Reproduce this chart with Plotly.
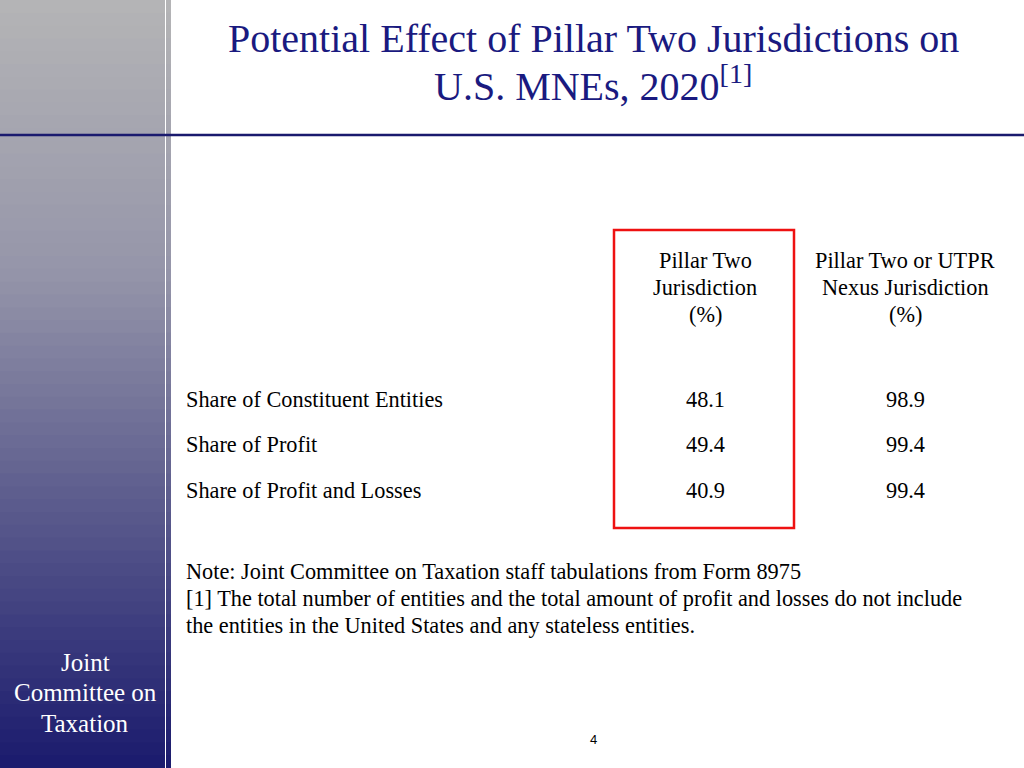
import plotly.graph_objects as go

rows = ["Share of Constituent Entities", "Share of Profit", "Share of Profit and Losses"]
col1 = ["48.1", "49.4", "40.9"]
col2 = ["98.9", "99.4", "99.4"]
headers = [["Pillar Two", "Jurisdiction", "(%)"], ["Pillar Two or UTPR", "Nexus Jurisdiction", "(%)"]]
notes = ["Note: Joint Committee on Taxation staff tabulations from Form 8975",
         "[1] The total number of entities and the total amount of profit and losses do not include",
         "the entities in the United States and any stateless entities."]
title = ["Potential Effect of Pillar Two Jurisdictions on", "U.S. MNEs, 2020<sup>[1]</sup>"]
sidebar = ["Joint", "Committee on", "Taxation"]

W, H = 1024, 768
fig = go.Figure()
shapes = []

def lerp(a, b, t):
    return tuple(int(a[i] + (b[i] - a[i]) * t) for i in range(3))

top = (180, 180, 182); mid = (150, 150, 170); bot = (28, 28, 110)
n = 60
for i in range(n):
    y0 = i * H / n; y1 = (i + 1) * H / n + 1
    t = i / (n - 1)
    if t < 0.35:
        c = lerp(top, mid, t / 0.35)
    else:
        c = lerp(mid, bot, (t - 0.35) / 0.65)
    col = "rgb(%d,%d,%d)" % c
    for x0, x1 in [(0, 165), (166, 171)]:
        shapes.append(dict(type="rect", xref="x", yref="y", x0=x0, x1=x1, y0=H - y1, y1=H - y0,
                           fillcolor=col, line_width=0, layer="below"))
shapes.append(dict(type="line", x0=0, x1=W, y0=H - 135, y1=H - 135, line=dict(color="#1a1a6e", width=2.5)))
shapes.append(dict(type="rect", x0=614, x1=794, y0=H - 528, y1=H - 230, line=dict(color="#ee1111", width=2.5)))
fig.update_layout(shapes=shapes)

font = "Liberation Serif"
BS = 22.3
ann = []
def txt(x, y, t, size, color="#000", xa="center"):
    ann.append(dict(x=x, y=H - y, text=t, font=dict(family=font, size=size, color=color),
                    showarrow=False, xanchor=xa, yanchor="middle"))

txt(593, 38, title[0], 40, "#1a1a80")
txt(593, 83, title[1], 40, "#1a1a80")
for x, hl in zip([705, 905], headers):
    for j, h in enumerate(hl):
        txt(x, 260 + 27 * j, h, BS)
for i, (r, a, b) in enumerate(zip(rows, col1, col2)):
    y = 399 + 45.5 * i
    txt(184, y, r, BS, xa="left")
    txt(705, y, a, BS)
    txt(905, y, b, BS)
for i, t in enumerate(notes):
    txt(184, 571 + 27 * i, t, BS, xa="left")
for i, t in enumerate(sidebar):
    txt(85, 662 + 30.5 * i, t, 25, "white")
ann.append(dict(x=593, y=H - 739, text="4", font=dict(family="Arial", size=13, color="#000"), showarrow=False))
fig.update_layout(annotations=ann, width=W, height=H, margin=dict(l=0, r=0, t=0, b=0),
                  paper_bgcolor="white", plot_bgcolor="white", showlegend=False,
                  xaxis=dict(range=[0, W], visible=False, fixedrange=True),
                  yaxis=dict(range=[0, H], visible=False, fixedrange=True))
fig.write_html("out.html", config={"displayModeBar": False},
               post_script="document.body.style.margin='0';document.body.style.overflow='hidden';")
